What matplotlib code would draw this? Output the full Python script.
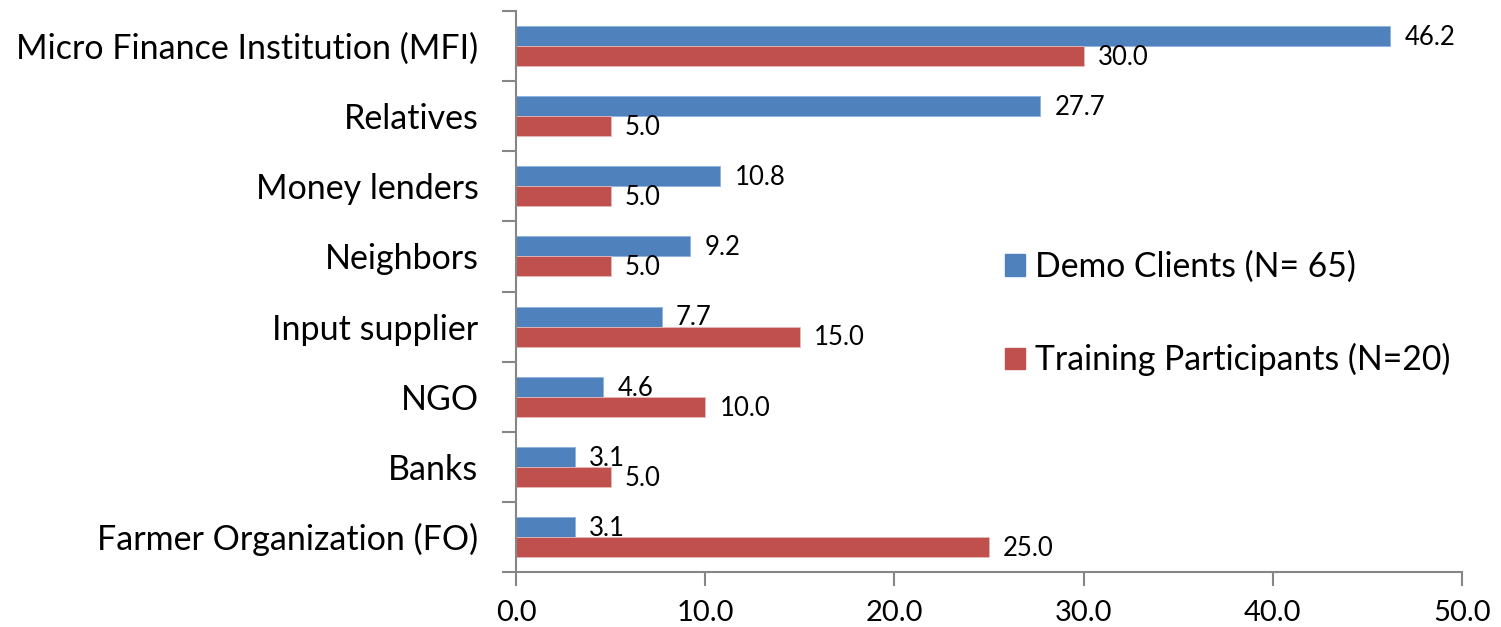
import numpy as np
import matplotlib.pyplot as plt
from matplotlib.patches import Patch

plt.rcParams['font.family'] = ['Lato', 'DejaVu Sans']

categories = ["Micro Finance Institution (MFI)", "Relatives", "Money lenders",
              "Neighbors", "Input supplier", "NGO", "Banks",
              "Farmer Organization (FO)"]
demo = [46.2, 27.7, 10.8, 9.2, 7.7, 4.6, 3.1, 3.1]
training = [30.0, 5.0, 5.0, 5.0, 15.0, 10.0, 5.0, 25.0]
labels = ["Demo Clients (N= 65)", "Training Participants (N=20)"]

blue = "#4F81BD"
red = "#C0504D"
grey = "#868686"

fig = plt.figure(figsize=(15.01, 6.27), dpi=100)
ax = fig.add_axes([516 / 1501, 1 - 572 / 627, (1462 - 516) / 1501, (572 - 11) / 627])

n = len(categories)
y = np.arange(n)[::-1]  # top category first
h = 0.286

ax.barh(y + h / 2, demo, height=h, color=blue, edgecolor="#8EB4E3", linewidth=0.6)
ax.barh(y - h / 2, training, height=h, color=red, edgecolor="#E6B9B8", linewidth=0.6)

for yi, v in zip(y, demo):
    ax.text(v + 0.75, yi + h / 2 - 0.02, f"{v:.1f}", va="center", ha="left", fontsize=18.5)
for yi, v in zip(y, training):
    ax.text(v + 0.75, yi - h / 2 - 0.02, f"{v:.1f}", va="center", ha="left", fontsize=18.5)

ax.set_xlim(0, 50)
ax.set_ylim(-0.5, n - 0.5)
ax.set_xticks(np.arange(0, 51, 10))
ax.set_xticklabels([f"{t:.1f}" for t in np.arange(0, 51, 10)], fontsize=21)

# category boundaries as ticks, names as minor labels
ax.set_yticks(np.arange(-0.5, n, 1.0))
ax.set_yticklabels([])
ax.set_yticks(y, minor=True)
ax.set_yticklabels(categories, minor=True, fontsize=24.5)
ax.tick_params(axis="y", which="minor", length=0, pad=27)
ax.tick_params(axis="y", which="major", length=10, color=grey, width=1.5)
ax.tick_params(axis="x", length=10, color=grey, width=1.5, pad=10)

for s in ["top", "right"]:
    ax.spines[s].set_visible(False)
for s in ["left", "bottom"]:
    ax.spines[s].set_color(grey)
    ax.spines[s].set_linewidth(1.5)

handles = [Patch(color=blue), Patch(color=red)]
ax.legend(handles, labels, loc="center left", bbox_to_anchor=(0.517, 0.461),
          frameon=False, fontsize=24.3, handlelength=0.6, handleheight=0.6,
          handletextpad=0.3, labelspacing=1.79, borderpad=0, borderaxespad=0)

fig.savefig("out.png", dpi=100)
